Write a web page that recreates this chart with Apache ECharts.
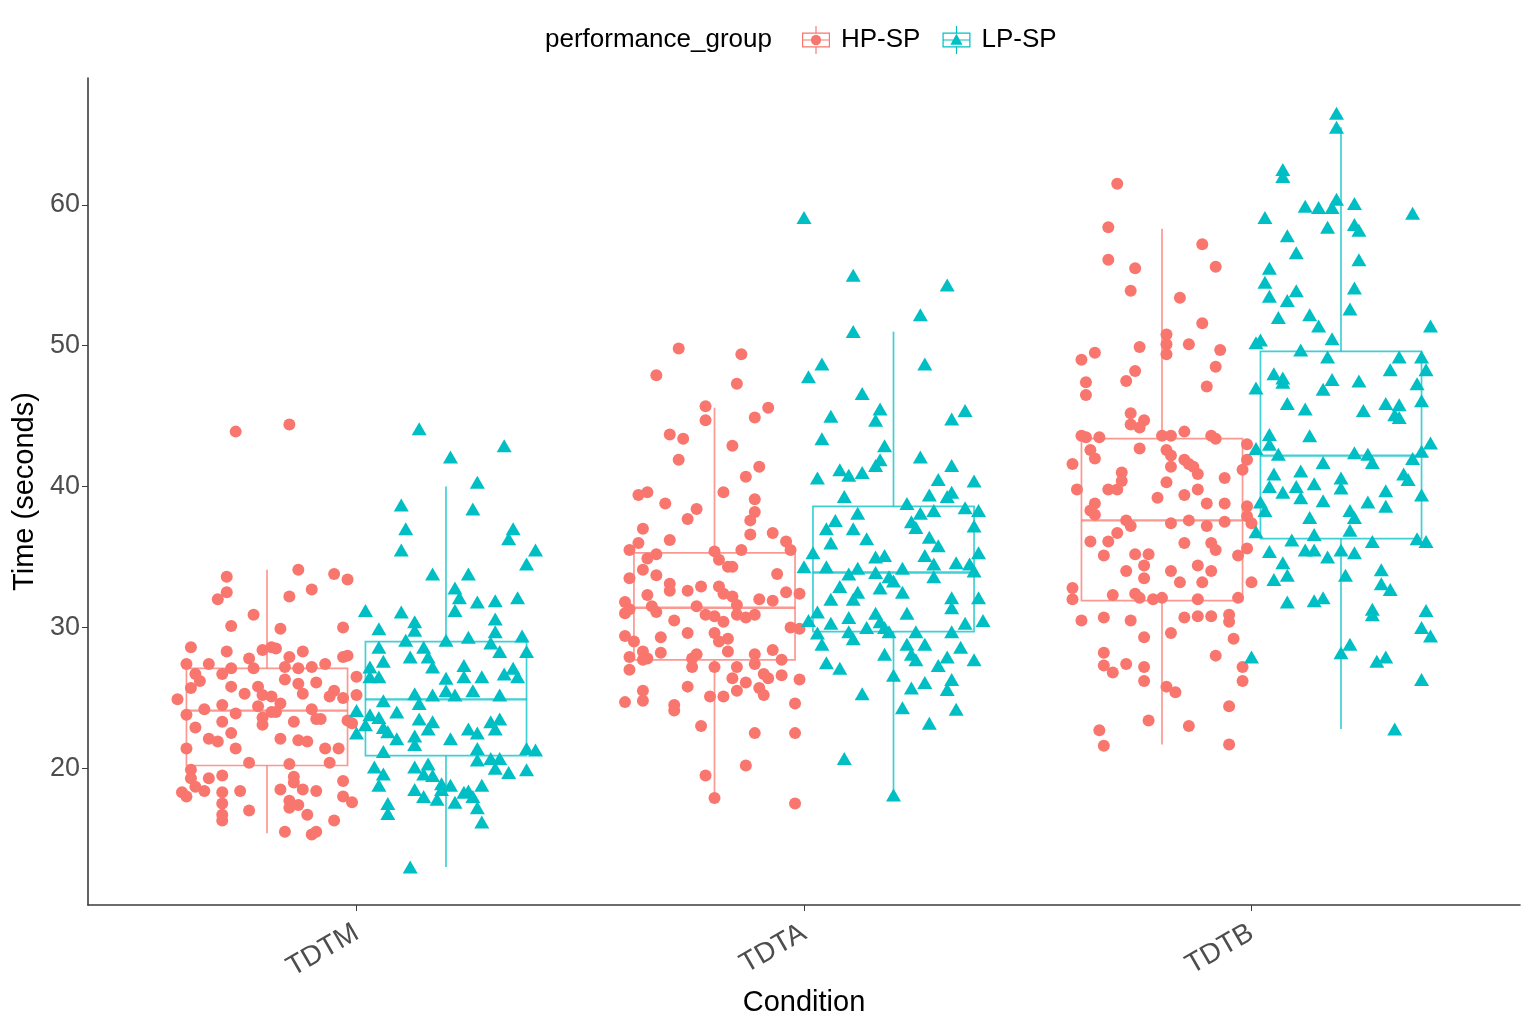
<!DOCTYPE html>
<html>
<head>
<meta charset="utf-8">
<script src="https://cdn.jsdelivr.net/npm/echarts@6/dist/echarts.min.js"></script>
<style>html,body{margin:0;padding:0;background:#fff}#c{width:1536px;height:1026px}</style>
</head>
<body>
<div id="c"></div>
<script>
// ---- data ----
const categories = ['TDTM', 'TDTA', 'TDTB'];
const groups = ['HP-SP', 'LP-SP'];
const yTicks = [20, 30, 40, 50, 60];

// box stats per condition: [lower whisker, Q1, median, Q3, upper whisker]
const hpBox = [[15.4, 20.2, 24.1, 27.1, 34.1], [17.9, 27.7, 31.4, 35.3, 45.6], [21.7, 31.9, 37.6, 43.4, 58.3]];
const lpBox = [[13.0, 20.9, 24.9, 29.0, 40.0], [18.2, 29.7, 33.9, 38.6, 51.0], [22.8, 36.3, 42.2, 49.6, 65.5]];

// jittered observations: [jitter, time]
const hpTDTM = [[-0.07,43.9],[0.05,44.4],[-0.09,33.6],[0.07,34.1],[0.15,33.8],[0.18,33.4],[0.10,32.7],[-0.09,32.5],[-0.11,32.0],[0.05,32.2],[-0.03,30.9],[-0.08,30.1],[0.03,29.9],[0.17,30.0],[-0.17,28.6],[-0.09,28.3],[-0.01,28.4],[0.01,28.6],[0.02,28.5],[0.08,28.3],[-0.18,27.4],[-0.13,27.4],[-0.04,27.8],[0.05,27.9],[0.10,27.2],[0.13,27.4],[0.17,27.9],[0.18,28.0],[-0.16,26.7],[-0.10,26.7],[-0.08,27.1],[-0.03,27.1],[0.04,27.2],[0.07,27.1],[-0.17,25.7],[-0.15,26.2],[-0.08,25.8],[-0.02,25.8],[0.04,26.3],[0.07,26.0],[0.11,26.1],[0.20,26.5],[-0.20,24.9],[-0.10,24.5],[-0.05,25.3],[-0.01,25.2],[0.01,25.1],[0.03,24.6],[0.08,25.3],[0.14,25.1],[0.15,25.5],[0.17,25.0],[0.20,25.2],[-0.18,23.8],[-0.14,24.2],[-0.10,23.3],[-0.07,23.9],[-0.02,24.4],[-0.01,23.6],[0.01,24.0],[0.02,24.0],[0.06,23.3],[0.10,24.2],[0.11,23.5],[0.12,23.5],[0.18,23.4],[0.19,23.2],[-0.16,22.9],[-0.13,22.1],[-0.11,21.9],[-0.08,22.5],[-0.01,23.1],[0.03,22.1],[0.07,22.0],[0.09,21.9],[-0.18,21.4],[-0.07,21.4],[0.13,21.4],[0.16,21.4],[-0.04,20.4],[0.05,20.3],[0.14,20.4],[-0.17,19.9],[-0.13,19.3],[-0.10,19.5],[-0.17,19.3],[0.06,19.4],[-0.16,18.7],[-0.19,18.3],[-0.18,18.0],[-0.14,18.4],[-0.10,18.3],[-0.06,18.4],[0.03,18.5],[0.08,18.5],[0.11,18.4],[0.05,17.7],[-0.10,17.5],[0.17,18.0],[0.19,17.6],[0.05,17.2],[0.07,17.4],[-0.10,16.7],[-0.04,17.0],[0.09,16.7],[-0.10,16.3],[0.15,16.3],[0.04,15.5],[0.10,15.3],[0.11,15.5],[0.17,19.1],[0.06,19.0]];
const lpTDTM = [[-0.06,44.1],[0.13,42.9],[0.01,42.1],[0.07,40.3],[-0.10,38.7],[0.06,38.4],[-0.09,37.0],[0.15,37.0],[0.14,36.3],[-0.10,35.5],[0.20,35.5],[0.18,34.5],[-0.03,33.8],[0.05,33.8],[0.02,32.8],[0.03,32.1],[0.07,31.8],[0.11,31.9],[0.16,32.1],[-0.18,31.2],[-0.10,31.1],[0.02,31.2],[-0.07,30.4],[0.11,30.6],[-0.15,29.9],[-0.07,29.8],[-0.09,29.1],[0.00,29.1],[0.05,29.3],[0.11,29.7],[0.17,29.4],[0.10,28.9],[-0.15,28.6],[-0.05,28.6],[0.12,28.3],[0.18,28.3],[-0.08,27.9],[-0.04,27.9],[-0.14,27.6],[-0.17,27.2],[0.04,27.3],[-0.03,27.2],[0.15,27.1],[-0.17,26.5],[-0.15,26.5],[0.00,26.4],[0.04,26.5],[0.08,26.5],[0.13,26.7],[0.16,26.5],[0.06,25.5],[0.00,25.5],[-0.07,25.3],[-0.03,25.2],[0.02,25.2],[0.12,25.2],[-0.14,24.8],[-0.06,24.6],[-0.20,24.1],[-0.11,24.0],[-0.17,23.8],[-0.15,23.6],[-0.06,23.5],[-0.03,23.3],[0.10,23.3],[0.12,23.5],[-0.18,23.1],[-0.14,22.9],[0.05,22.8],[0.11,22.8],[-0.20,22.5],[-0.13,22.6],[-0.11,22.1],[-0.07,22.3],[-0.04,22.8],[0.01,22.1],[0.07,22.5],[-0.07,21.7],[0.07,21.4],[0.18,21.4],[0.20,21.3],[-0.14,21.2],[0.07,20.6],[0.10,20.7],[0.12,20.7],[-0.16,20.1],[-0.07,20.1],[-0.04,20.3],[0.11,20.0],[0.14,19.7],[0.18,19.9],[-0.14,19.6],[-0.05,19.6],[-0.03,19.5],[-0.15,18.8],[-0.07,18.5],[-0.01,18.9],[0.01,18.8],[0.08,18.8],[-0.05,18.0],[-0.02,17.8],[0.04,18.3],[0.06,18.0],[-0.13,17.5],[0.02,17.6],[0.07,17.2],[-0.13,16.8],[0.08,16.2],[-0.08,13.0],[-0.01,18.5],[0.05,18.4]];
const hpTDTA = [[-0.08,49.8],[0.06,49.4],[-0.13,47.9],[0.05,47.3],[-0.02,45.7],[0.12,45.6],[-0.02,44.7],[0.09,44.9],[-0.10,43.7],[-0.07,43.4],[0.04,42.9],[-0.08,41.9],[0.10,41.4],[0.07,40.7],[-0.17,39.4],[-0.15,39.6],[0.02,39.6],[-0.11,38.8],[0.09,39.1],[-0.04,38.4],[-0.06,37.7],[0.09,38.2],[0.08,37.6],[-0.16,37.0],[-0.10,36.2],[0.08,36.6],[0.13,36.7],[0.16,36.1],[-0.19,35.5],[-0.17,36.0],[-0.13,35.2],[0.00,35.4],[0.06,35.5],[0.17,35.5],[-0.15,34.9],[0.01,34.8],[0.03,34.3],[0.04,34.3],[-0.16,34.1],[-0.19,33.5],[-0.13,33.7],[0.14,33.8],[-0.10,33.1],[-0.10,32.6],[-0.06,32.6],[-0.03,32.9],[0.01,32.9],[-0.15,32.3],[0.02,32.4],[0.04,32.2],[0.05,31.6],[0.10,32.0],[0.13,31.9],[0.16,32.5],[0.19,32.4],[-0.20,31.8],[-0.19,31.3],[-0.20,31.0],[-0.14,31.5],[-0.13,31.1],[-0.04,31.5],[-0.02,30.9],[0.00,30.8],[0.02,30.4],[0.05,30.9],[0.07,30.7],[0.09,30.9],[-0.09,30.5],[0.17,30.0],[0.19,29.9],[-0.20,29.4],[-0.18,29.0],[-0.12,29.3],[-0.06,29.6],[0.00,29.6],[0.03,29.2],[0.01,29.0],[0.03,28.3],[-0.16,28.3],[-0.15,27.8],[-0.12,28.2],[-0.19,27.9],[-0.16,27.7],[-0.05,27.8],[-0.04,28.1],[0.09,28.1],[0.13,28.4],[-0.19,27.0],[-0.05,27.2],[0.00,27.2],[0.05,27.2],[0.09,27.4],[0.15,27.7],[0.11,26.7],[0.15,26.6],[0.04,26.4],[0.12,26.4],[0.07,26.1],[0.19,26.3],[-0.06,25.8],[0.10,25.7],[-0.16,25.5],[0.05,25.5],[-0.01,25.1],[0.02,25.1],[-0.20,24.7],[-0.16,24.8],[-0.09,24.5],[-0.09,24.1],[0.11,25.2],[0.18,24.6],[-0.03,23.0],[0.09,22.5],[0.18,22.5],[0.07,20.2],[-0.02,19.5],[0.00,17.9],[0.18,17.5]];
const lpTDTA = [[-0.20,59.1],[-0.09,55.0],[0.12,54.3],[0.06,52.2],[-0.09,51.0],[-0.16,48.7],[-0.19,47.8],[0.07,48.7],[-0.07,46.6],[-0.03,45.5],[-0.14,45.0],[-0.04,44.7],[0.16,45.4],[0.13,44.8],[-0.16,43.4],[-0.02,42.9],[0.06,42.1],[-0.17,40.6],[-0.12,41.2],[-0.10,40.8],[-0.07,41.0],[-0.04,41.5],[-0.03,41.9],[0.13,41.5],[0.10,40.5],[0.18,40.4],[0.08,39.4],[0.12,39.3],[0.13,39.6],[-0.11,39.3],[0.03,38.8],[0.06,38.1],[0.09,38.3],[0.16,38.5],[0.19,38.3],[-0.13,37.6],[-0.08,38.1],[0.04,37.5],[0.05,37.1],[-0.15,37.0],[-0.09,37.0],[0.18,37.2],[-0.14,36.0],[-0.06,36.3],[0.08,36.4],[0.10,35.8],[-0.18,35.3],[-0.04,35.0],[-0.02,35.1],[0.07,35.1],[0.19,35.3],[-0.20,34.3],[-0.15,34.3],[-0.08,34.2],[-0.10,33.8],[-0.04,33.9],[0.02,34.2],[0.09,34.5],[0.14,34.6],[0.17,34.5],[0.18,34.0],[-0.12,32.9],[-0.01,33.6],[0.00,33.3],[0.09,33.6],[-0.08,32.5],[-0.03,32.8],[0.02,32.5],[-0.14,32.0],[-0.09,32.0],[0.13,32.1],[0.19,32.1],[-0.17,31.1],[-0.10,30.7],[-0.04,31.0],[0.03,31.0],[-0.19,30.5],[-0.14,30.3],[-0.06,30.0],[-0.03,30.4],[-0.02,30.0],[0.13,31.4],[0.16,30.3],[0.20,30.5],[-0.17,29.6],[-0.10,29.7],[-0.01,29.7],[0.05,29.7],[0.13,29.7],[-0.16,28.8],[-0.09,29.2],[0.03,28.8],[0.07,28.8],[0.15,28.6],[0.04,28.1],[0.05,27.7],[0.10,27.3],[-0.15,27.5],[-0.12,27.1],[-0.02,28.1],[0.12,27.9],[0.18,27.7],[0.00,26.6],[0.07,26.1],[0.13,26.3],[-0.07,25.3],[0.04,25.7],[0.12,25.6],[0.02,24.3],[0.14,24.2],[0.08,23.2],[-0.11,20.7],[0.00,18.1]];
const hpTDTB = [[-0.10,61.5],[-0.12,58.4],[0.09,57.2],[-0.12,56.1],[-0.06,55.5],[0.12,55.6],[-0.07,53.9],[0.04,53.4],[0.09,51.6],[0.01,50.8],[0.01,50.1],[0.01,49.4],[0.06,50.1],[-0.05,49.9],[0.13,49.7],[-0.18,49.0],[-0.15,49.5],[0.12,48.5],[-0.06,48.2],[-0.17,47.4],[-0.08,47.5],[0.10,47.1],[-0.17,46.5],[-0.07,45.2],[-0.04,44.7],[-0.07,44.4],[-0.05,44.2],[-0.18,43.6],[-0.17,43.5],[-0.14,43.5],[0.00,43.6],[0.02,43.6],[0.05,43.9],[0.11,43.6],[0.12,43.4],[0.19,43.0],[-0.20,41.6],[-0.16,42.6],[-0.15,42.0],[-0.05,42.7],[0.01,42.6],[0.02,42.2],[0.05,41.9],[0.06,41.6],[0.07,41.4],[0.19,41.9],[0.18,41.2],[-0.19,39.8],[-0.12,39.8],[-0.09,41.0],[-0.09,40.4],[-0.10,39.8],[0.02,41.4],[0.01,40.3],[0.08,40.9],[0.14,40.6],[0.05,39.4],[0.08,39.8],[-0.01,39.2],[-0.15,38.8],[-0.16,38.3],[-0.15,38.0],[0.10,38.8],[0.14,38.8],[0.19,38.6],[0.19,37.9],[-0.08,37.6],[-0.07,37.2],[0.02,37.4],[0.06,37.6],[0.10,37.2],[0.14,37.5],[0.20,37.4],[-0.16,36.1],[-0.12,36.1],[-0.10,36.7],[0.05,36.0],[0.11,36.0],[0.12,35.5],[-0.13,35.1],[-0.06,35.2],[-0.03,35.2],[0.17,35.1],[0.19,35.6],[-0.08,34.0],[-0.04,34.4],[0.02,34.0],[0.08,34.4],[0.11,34.0],[0.04,33.2],[0.09,33.2],[-0.04,33.5],[-0.20,32.8],[-0.20,32.0],[-0.11,32.3],[-0.06,32.4],[-0.05,32.1],[-0.02,32.0],[0.00,32.1],[0.08,32.0],[0.17,32.1],[0.20,33.2],[-0.18,30.5],[-0.13,30.7],[-0.07,30.5],[0.05,30.7],[0.08,30.8],[0.11,30.8],[0.15,30.9],[0.15,30.4],[-0.04,29.3],[0.02,29.6],[0.16,29.2],[-0.13,28.2],[-0.13,27.3],[-0.11,26.8],[-0.08,27.4],[-0.04,27.2],[-0.04,26.2],[0.12,28.0],[0.18,27.2],[0.18,26.2],[0.01,25.8],[0.03,25.4],[0.15,24.4],[-0.14,22.7],[-0.13,21.6],[-0.03,23.4],[0.06,23.0],[0.15,21.7]];
const lpTDTB = [[-0.01,66.5],[-0.01,65.5],[-0.13,62.5],[-0.13,62.0],[-0.17,59.1],[-0.08,59.9],[-0.05,59.8],[-0.02,59.8],[-0.01,60.4],[0.03,60.1],[0.16,59.4],[-0.03,58.4],[0.03,58.6],[0.04,58.2],[-0.12,57.8],[-0.10,56.6],[0.04,56.1],[-0.16,55.5],[-0.17,54.5],[-0.16,53.5],[-0.12,53.2],[-0.10,53.9],[0.03,54.1],[0.02,52.6],[-0.14,52.0],[-0.07,52.2],[-0.05,51.4],[0.20,51.4],[-0.18,50.4],[-0.19,50.2],[-0.02,50.5],[-0.09,49.7],[-0.03,49.2],[0.13,49.2],[0.18,49.2],[0.19,48.3],[-0.15,48.0],[-0.13,47.7],[-0.13,47.4],[-0.19,47.0],[-0.04,46.9],[-0.02,47.6],[0.04,47.5],[0.11,48.3],[0.17,47.3],[-0.12,45.9],[-0.08,45.5],[0.05,45.4],[0.10,45.9],[0.13,45.8],[0.12,45.1],[0.13,44.9],[0.18,46.1],[-0.07,43.6],[-0.16,43.7],[-0.16,43.0],[-0.14,42.3],[-0.19,42.7],[0.03,42.4],[0.06,42.3],[0.07,41.7],[0.16,42.0],[0.20,43.1],[0.18,42.5],[-0.04,41.7],[-0.15,40.9],[-0.09,41.1],[0.00,40.6],[0.14,40.9],[0.15,40.5],[-0.16,40.0],[-0.13,39.6],[-0.10,40.0],[-0.06,40.2],[0.00,39.9],[0.10,39.7],[-0.09,39.2],[-0.18,38.9],[-0.17,38.3],[-0.04,39.0],[0.06,38.9],[0.10,38.6],[0.02,38.3],[0.03,37.8],[0.18,39.4],[-0.07,37.8],[-0.19,36.8],[-0.06,36.6],[0.02,36.9],[-0.11,36.2],[0.07,36.1],[0.17,36.3],[0.19,36.1],[-0.16,35.4],[-0.08,35.5],[-0.06,35.5],[-0.03,35.0],[0.00,35.5],[0.03,35.3],[-0.13,34.6],[-0.12,33.7],[-0.15,33.4],[0.01,33.7],[0.09,34.1],[0.09,33.1],[0.11,32.7],[-0.12,31.8],[-0.06,31.9],[-0.04,32.1],[0.07,31.3],[0.07,30.9],[0.19,31.2],[0.18,30.0],[0.20,29.4],[0.00,28.2],[0.02,28.8],[0.08,27.6],[0.10,27.9],[-0.20,27.9],[0.18,26.3],[0.12,22.8]];

const hpPoints = [hpTDTM, hpTDTA, hpTDTB];
const lpPoints = [lpTDTM, lpTDTA, lpTDTB];

// ---- layout constants (not data) ----
const HP_COLOR = '#F8766D';
const LP_COLOR = '#00BFC4';
const DODGE = 0.2;
const BOX_HALF = 0.18;
const FONT = '"Liberation Sans", Arial, sans-serif';

function pointsFor(sets, shift) {
  const out = [];
  sets.forEach((arr, ci) => arr.forEach(p => out.push([ci + 1 + shift + p[0], p[1]])));
  return out;
}
function boxesFor(stats, shift) {
  return stats.map((s, ci) => [ci + 1 + shift, s[0], s[1], s[2], s[3], s[4]]);
}
function renderBox(color) {
  return function (params, api) {
    const x = api.value(0);
    const lo = api.coord([x, api.value(1)]);
    const q1 = api.coord([x, api.value(2)]);
    const md = api.coord([x, api.value(3)]);
    const q3 = api.coord([x, api.value(4)]);
    const hi = api.coord([x, api.value(5)]);
    const l = api.coord([x - BOX_HALF, api.value(3)])[0];
    const r = api.coord([x + BOX_HALF, api.value(3)])[0];
    const st = { stroke: color, lineWidth: 1.7, fill: null, opacity: 0.75 };
    return {
      type: 'group',
      children: [
        { type: 'line', shape: { x1: hi[0], y1: hi[1], x2: q3[0], y2: q3[1] }, style: st },
        { type: 'line', shape: { x1: q1[0], y1: q1[1], x2: lo[0], y2: lo[1] }, style: st },
        { type: 'rect', shape: { x: l, y: q3[1], width: r - l, height: q1[1] - q3[1] }, style: st },
        { type: 'line', shape: { x1: l, y1: md[1], x2: r, y2: md[1] }, style: Object.assign({}, st, { lineWidth: 2.3 }) }
      ]
    };
  };
}

const FRAME = 'M14.4 0 H15.6 V7 H14.4 Z M14.4 23 H15.6 V30 H14.4 Z M0 7 H30 V23 H0 Z M1.3 8.3 V21.7 H28.7 V8.3 Z M1.3 14.4 H28.7 V15.6 H1.3 Z ';
const HP_ICON = 'path://' + FRAME + 'M20.5 15 A5.5 5.5 0 1 1 9.5 15 A5.5 5.5 0 1 1 20.5 15 Z';
const LP_ICON = 'path://' + FRAME + 'M15 8.3 L21.5 20 H8.5 Z';

const chart = echarts.init(document.getElementById('c'), null, { renderer: 'canvas' });
chart.setOption({
  backgroundColor: '#ffffff',
  animation: false,
  textStyle: { fontFamily: FONT },
  grid: { left: 88, right: 16, top: 78, bottom: 121 },
  graphic: [{
    type: 'text', left: 545, top: 27,
    style: { text: 'performance_group', font: '26px ' + FONT, fill: '#000000' }
  }],
  legend: {
    left: 802, top: 26,
    itemWidth: 28, itemHeight: 28, itemGap: 22,
    padding: 0,
    textStyle: { fontSize: 26, color: '#000000', fontFamily: FONT, padding: [0, 0, 0, 6] },
    data: [{ name: groups[0], icon: HP_ICON }, { name: groups[1], icon: LP_ICON }]
  },
  xAxis: {
    type: 'value', min: 0.4, max: 3.6,
    name: 'Condition', nameLocation: 'middle', nameGap: 74,
    nameTextStyle: { fontSize: 29, color: '#000000', fontFamily: FONT },
    axisLine: { show: true, lineStyle: { color: '#3c3c3c', width: 1.6 } },
    axisTick: { show: true, customValues: [1, 2, 3], length: 6, lineStyle: { color: '#3c3c3c' } },
    axisLabel: {
      customValues: [1, 2, 3], rotate: 30, margin: 26,
      fontSize: 28, color: '#4D4D4D', fontFamily: FONT,
      formatter: v => categories[Math.round(v) - 1]
    },
    splitLine: { show: false }
  },
  yAxis: {
    type: 'value', min: 10.3, max: 69.0,
    name: 'Time (seconds)', nameLocation: 'middle', nameGap: 44,
    nameTextStyle: { fontSize: 29, color: '#000000', fontFamily: FONT },
    axisLine: { show: true, lineStyle: { color: '#3c3c3c', width: 1.6 } },
    axisTick: { show: true, customValues: yTicks, length: 6, lineStyle: { color: '#3c3c3c' } },
    axisLabel: { customValues: yTicks, fontSize: 27, color: '#4D4D4D', fontFamily: FONT, margin: 8 },
    splitLine: { show: false }
  },
  series: [
    { name: groups[0], type: 'custom', renderItem: renderBox(HP_COLOR), data: boxesFor(hpBox, -DODGE),
      itemStyle: { color: HP_COLOR }, z: 1, silent: true, encode: { x: 0, y: [1, 2, 3, 4, 5] } },
    { name: groups[1], type: 'custom', renderItem: renderBox(LP_COLOR), data: boxesFor(lpBox, DODGE),
      itemStyle: { color: LP_COLOR }, z: 1, silent: true, encode: { x: 0, y: [1, 2, 3, 4, 5] } },
    { name: groups[0], type: 'scatter', symbol: 'circle', symbolSize: 12,
      itemStyle: { color: HP_COLOR, opacity: 1 }, data: pointsFor(hpPoints, -DODGE), z: 3 },
    { name: groups[1], type: 'scatter', symbol: 'triangle', symbolSize: [15, 13],
      itemStyle: { color: LP_COLOR, opacity: 1 }, data: pointsFor(lpPoints, DODGE), z: 3 }
  ]
});
</script>
</body>
</html>
